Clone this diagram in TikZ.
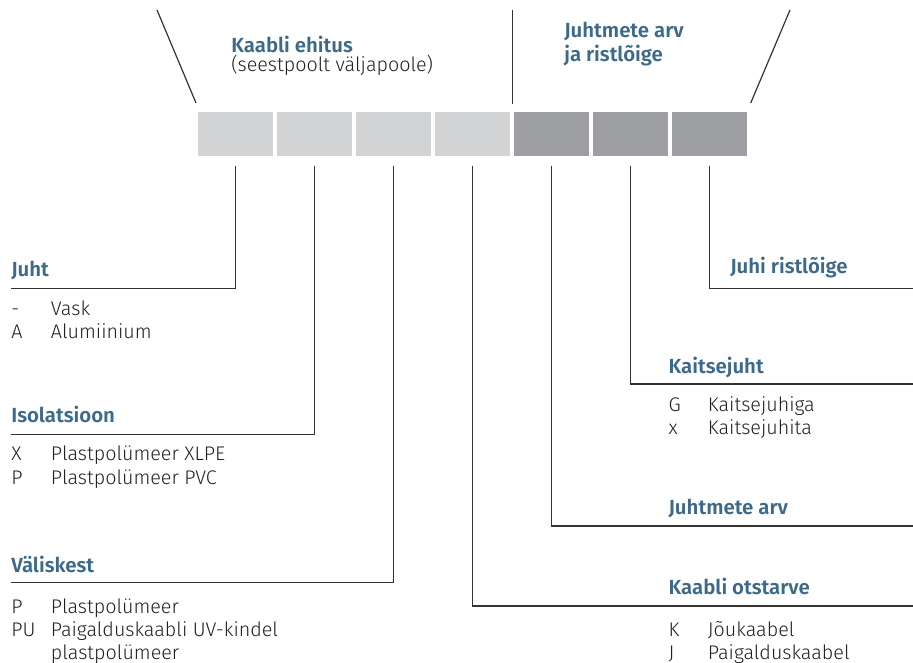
\documentclass[tikz,border=0pt]{standalone}
\usepackage{fontspec}
\setmainfont{Fira Sans}[UprightFont={* Light}, BoldFont={* SemiBold}]
\definecolor{segl}{HTML}{D1D3D4}
\definecolor{segd}{HTML}{9D9FA2}
\definecolor{headblue}{HTML}{3E6A8A}
\definecolor{bodyc}{HTML}{231F20}
\definecolor{linec}{HTML}{333333}
\begin{document}
\begin{tikzpicture}[x=0.75pt,y=-0.75pt,
  seg/.style={minimum width=56.25pt, minimum height=32.5pt, inner sep=0pt, outer sep=0pt, anchor=north west, draw=none},
  lightseg/.style={seg, fill=segl},
  darkseg/.style={seg, fill=segd},
  head/.style={anchor=base west, inner sep=0pt, font=\bfseries\fontsize{15.3}{18}\selectfont, text=headblue},
  body/.style={anchor=base west, inner sep=0pt, font=\fontsize{14.8}{17}\selectfont, text=bodyc},
  conn/.style={draw=linec, line width=0.9pt}]
\useasboundingbox (0,0) rectangle (913,663);
% segments
\node[lightseg] (b1) at (198,112.3) {};
\node[lightseg] (b2) at (277,112.3) {};
\node[lightseg] (b3) at (356,112.3) {};
\node[lightseg] (b4) at (435,112.3) {};
\node[darkseg] (b5) at (514,112.3) {};
\node[darkseg] (b6) at (593,112.3) {};
\node[darkseg] (b7) at (672,112.3) {};
% top lines
\coordinate (tl1) at (157,10); \coordinate (tl2) at (196,103);
\coordinate (tm1) at (512.3,10); \coordinate (tm2) at (512.3,104);
\coordinate (tr1) at (790,10); \coordinate (tr2) at (750.7,103);
\draw[conn] (tl1) -- (tl2);
\draw[conn] (tm1) -- (tm2);
\draw[conn] (tr1) -- (tr2);
% top titles
\node[head] (t1) at (231,52.3) {Kaabli ehitus};
\node[body] (t1b) at (231,72) {(seestpoolt väljapoole)};
\node[head] (t2) at (564,38) {Juhtmete arv};
\node[head] (t2b) at (564,62) {ja ristlõige};
% connector end points
\coordinate (e1) at (11,288.3);
\coordinate (e2) at (11,434.3);
\coordinate (e3) at (11,582.7);
\coordinate (e4) at (913,606);
\coordinate (e5) at (913,526);
\coordinate (e6) at (913,384);
\coordinate (e7) at (913,288.3);
\draw[conn] ([yshift=-7.5pt]b1.south) |- (e1);
\draw[conn] ([yshift=-7.5pt]b2.south) |- (e2);
\draw[conn] ([yshift=-7.5pt]b3.south) |- (e3);
\draw[conn] ([yshift=-7.5pt]b4.south) |- (e4);
\draw[conn] ([yshift=-7.5pt]b5.south) |- (e5);
\draw[conn] ([yshift=-7.5pt]b6.south) |- (e6);
\draw[conn] ([yshift=-7.5pt]b7.south) |- (e7);
% left: Juht
\node[head] (h1) at (11,276.7) {Juht};
\node[body] (c1a) at (11,315) {-};
\node[body] (d1a) at (50.7,315) {Vask};
\node[body] (c1b) at (11,338) {A};
\node[body] (d1b) at (50.7,338) {Alumiinium};
% Isolatsioon
\node[head] (h2) at (11,422.7) {Isolatsioon};
\node[body] (c2a) at (11,460.7) {X};
\node[body] (d2a) at (50.7,460.7) {Plastpolümeer XLPE};
\node[body] (c2b) at (11,484) {P};
\node[body] (d2b) at (50.7,484) {Plastpolümeer PVC};
% Väliskest
\node[head] (h3) at (11,572.7) {Väliskest};
\node[body] (c3a) at (11,613) {P};
\node[body] (d3a) at (50.7,613) {Plastpolümeer};
\node[body] (c3b) at (11,636) {PU};
\node[body] (d3b) at (50.7,636) {Paigalduskaabli UV-kindel};
\node[body] (d3c) at (50.7,659) {plastpolümeer};
% right: Juhi ristlõige
\node[head] (h7) at (730,273.3) {Juhi ristlõige};
% Kaitsejuht
\node[head] (h6) at (668.3,373.3) {Kaitsejuht};
\node[body] (c6a) at (668.3,411.7) {G};
\node[body] (d6a) at (707.7,411.7) {Kaitsejuhiga};
\node[body] (c6b) at (668.3,434.5) {x};
\node[body] (d6b) at (707.7,434.5) {Kaitsejuhita};
% Juhtmete arv
\node[head] (h5) at (668.3,514) {Juhtmete arv};
% Kaabli otstarve
\node[head] (h4) at (668.3,594) {Kaabli otstarve};
\node[body] (c4a) at (668.3,636.7) {K};
\node[body] (d4a) at (707.7,636.7) {Jõukaabel};
\node[body] (c4b) at (668.3,659.5) {J};
\node[body] (d4b) at (707.7,659.5) {Paigalduskaabel};
\end{tikzpicture}
\end{document}
